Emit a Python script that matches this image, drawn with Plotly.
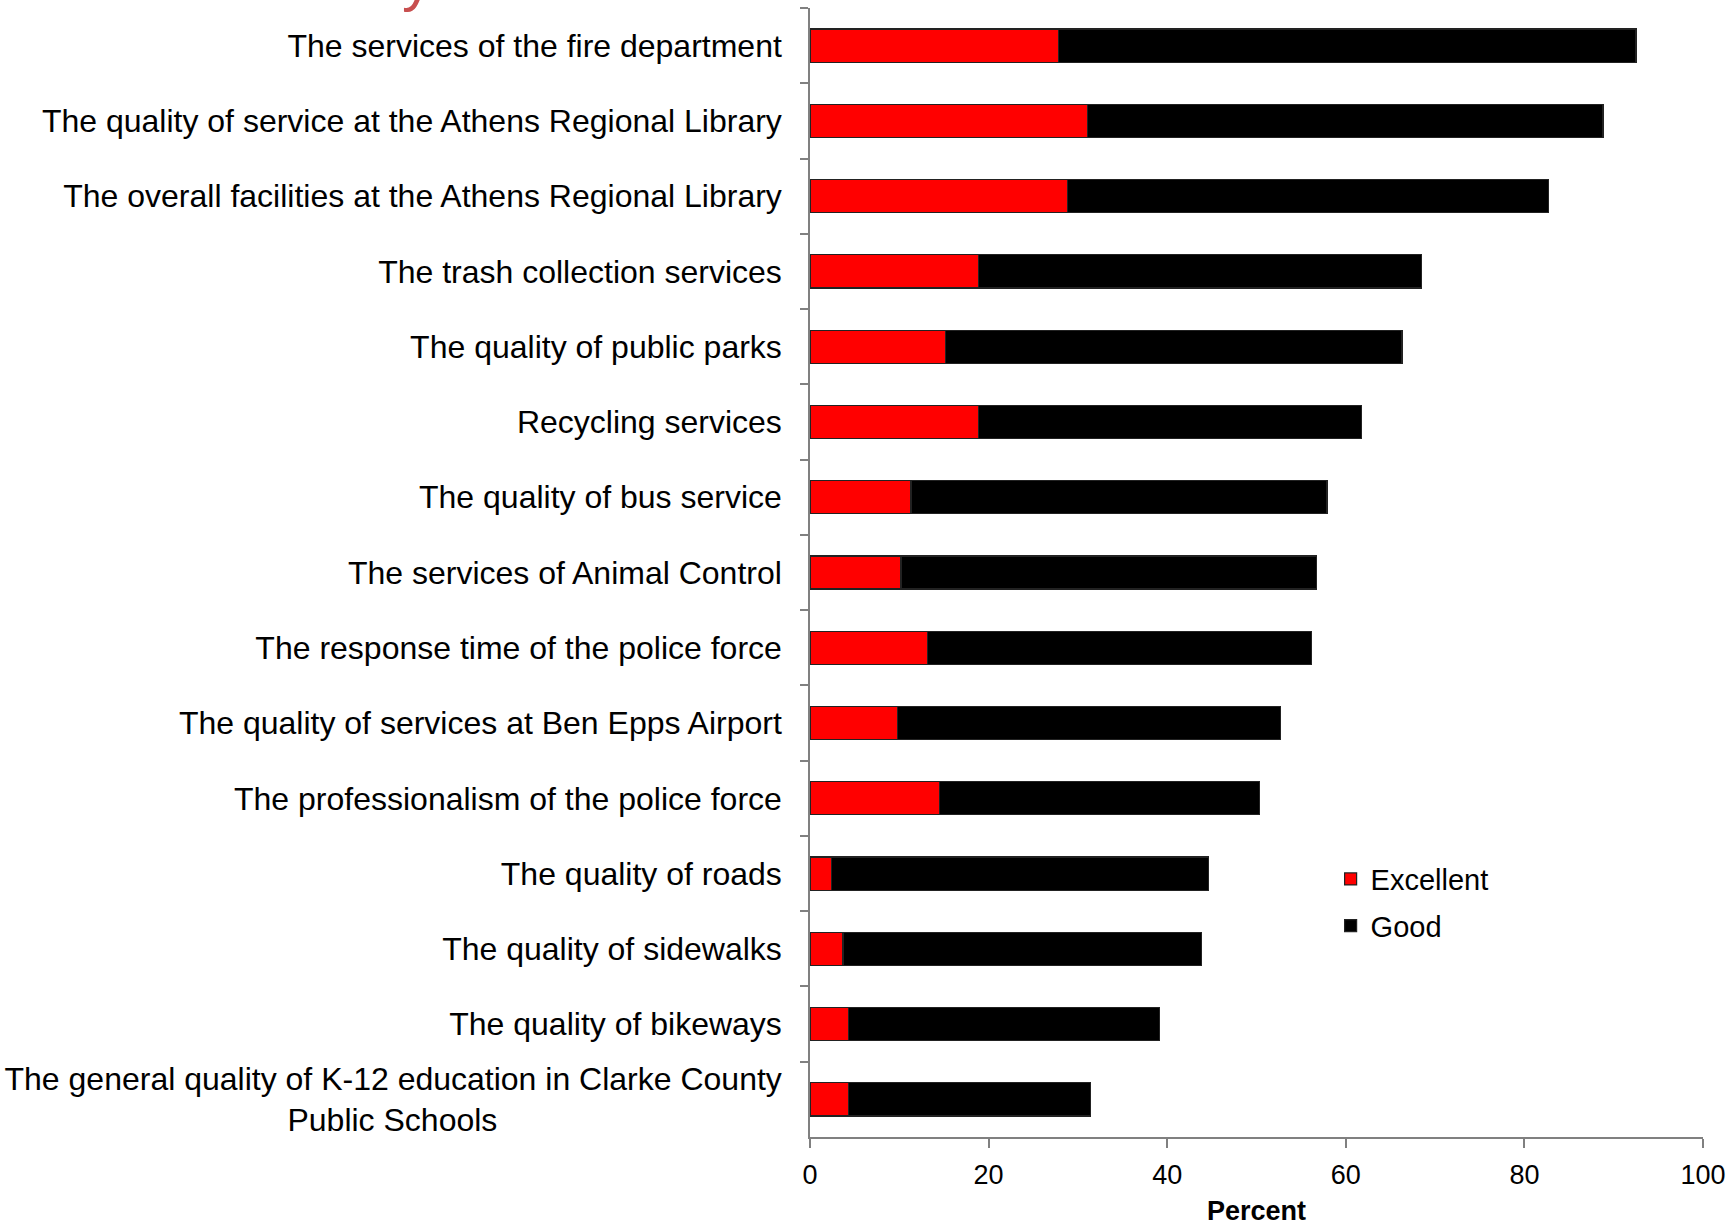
"""
Ratings of city services - Excellent / Good horizontal stacked bars
"""

import plotly.graph_objects as go

services = [
    "The services of the fire department",
    "The quality of service at the Athens Regional Library",
    "The overall facilities at the Athens Regional Library",
    "The trash collection services",
    "The quality of public parks",
    "Recycling services",
    "The quality of bus service",
    "The services of Animal Control",
    "The response time of the police force",
    "The quality of services at Ben Epps Airport",
    "The professionalism of the police force",
    "The quality of roads",
    "The quality of sidewalks",
    "The quality of bikeways",
    "The general quality of K-12 education in Clarke County<br>Public Schools"
    + "\u00a0" * 32,
]

excellent = [27.8, 31.1, 28.8, 18.9, 15.2, 18.9, 11.3, 10.2, 13.2, 9.8, 14.5, 2.4, 3.7, 4.3, 4.3]
good = [64.7, 57.7, 53.9, 49.6, 51.1, 42.9, 46.6, 46.5, 43.0, 42.9, 35.8, 42.2, 40.1, 34.8, 27.1]

x_ticks = [0, 20, 40, 60, 80, 100]

FONT = "Liberation Sans, Arial, sans-serif"

fig = go.Figure()
fig.add_trace(go.Bar(y=services, x=excellent, name="Excellent", orientation="h",
                     legendgroup="exc",
                     marker=dict(color="#ff0000", line=dict(color="#222222", width=1.2))))
fig.add_trace(go.Bar(y=services, x=good, name="Good", orientation="h",
                     legendgroup="good",
                     marker=dict(color="#000000", line=dict(color="#222222", width=1.2))))

fig.update_layout(
    barmode="stack",
    bargap=0.56,
    width=1728, height=1226,
    margin=dict(l=810, r=25, t=8, b=89),
    plot_bgcolor="white", paper_bgcolor="white",
    font=dict(family=FONT, color="black", size=28),
    legend=dict(x=0.583, y=0.251, xanchor="left", yanchor="top",
                font=dict(size=29), itemwidth=30, tracegroupgap=6,
                traceorder="grouped", bgcolor="rgba(0,0,0,0)"),
    showlegend=True,
)

fig.update_xaxes(
    range=[0, 100], tickvals=x_ticks, showgrid=False, zeroline=False,
    showline=True, linecolor="#808080", linewidth=1.5,
    ticks="outside", ticklen=9, tickcolor="#808080", tickwidth=1.5,
    tickfont=dict(size=27), ticklabelstandoff=4, automargin=False,
    title=dict(text="<b>Percent</b>", font=dict(size=27), standoff=16),
)
fig.update_yaxes(
    autorange="reversed", showgrid=False, automargin=False,
    showline=True, linecolor="#808080", linewidth=1.5,
    ticks="outside", ticklen=8, tickcolor="#808080", tickwidth=1.5,
    tickson="boundaries", tickfont=dict(size=32), ticklabelstandoff=20,
)

# fragment of a clipped red heading visible at the top edge
fig.add_annotation(text="y", xref="paper", yref="paper", x=-0.44, y=1.0,
                   xanchor="center", yanchor="bottom", yshift=-7, showarrow=False,
                   font=dict(size=60, color="#c84f4f", family=FONT))

fig.write_html("out.html", config={"displayModeBar": False},
               post_script="document.body.style.margin='0';")
